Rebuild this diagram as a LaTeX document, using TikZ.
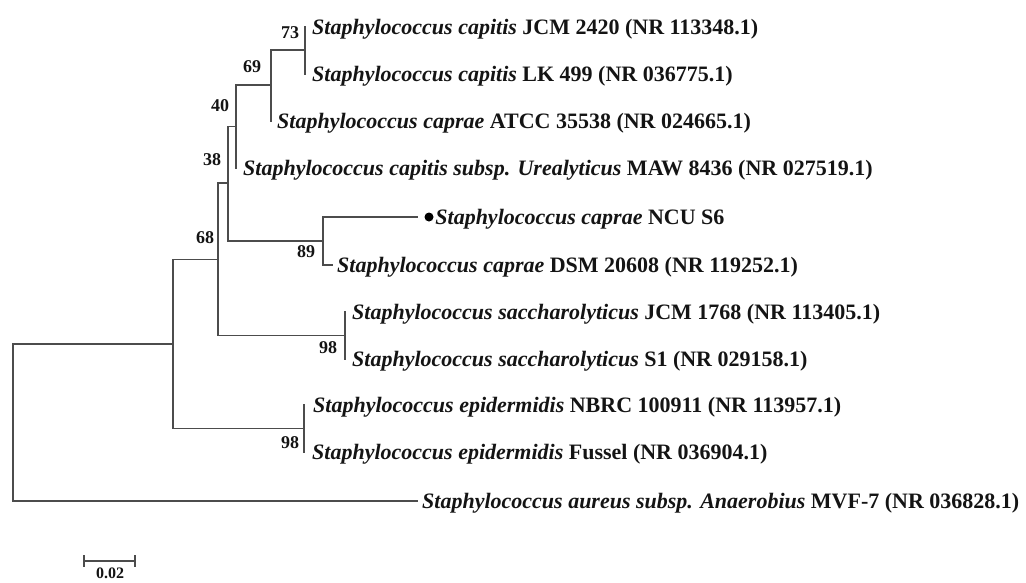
\documentclass[tikz,border=0pt]{standalone}
\usepackage{fontspec}
\setmainfont{Liberation Serif}
\newcommand{\spn}[1]{{\itshape #1}}
\begin{document}
\begin{tikzpicture}[x=1pt,y=-1pt,
  branch/.style={draw=black!70,line width=1.7pt,line cap=rect},
  leaf/.style={anchor=base west,inner sep=0pt,xshift=7pt,yshift=-7.5pt,
    font=\fontsize{22}{26}\selectfont\bfseries,text=black!92},
  boot/.style={inner sep=0pt,font=\fontsize{18}{20}\selectfont\bfseries,text=black!92}]
\useasboundingbox (0,0) rectangle (1026,582);
% internal nodes
\coordinate (root) at (13,422.5);
\coordinate (nA) at (173,344);
\coordinate (n68) at (218,259.5);
\coordinate (n38) at (228,183);
\coordinate (n40) at (236,126.5);
\coordinate (n69) at (271,85);
\coordinate (n73) at (305,50);
\coordinate (n89) at (323,241);
\coordinate (s98) at (345,335.5);
\coordinate (e98) at (304,428.5);
% tips
\coordinate (t1) at (305,27);
\coordinate (t2) at (305,74);
\coordinate (t3) at (271,121);
\coordinate (t4) at (236,168);
\coordinate (t5) at (417,217);
\coordinate (t6) at (332,265);
\coordinate (t7) at (345,312);
\coordinate (t8) at (345,359);
\coordinate (t9) at (304,405);
\coordinate (t10) at (304,452);
\coordinate (t11) at (417,501);
% branches
\draw[branch] (root) |- (nA);
\draw[branch] (root) |- (t11);
\draw[branch] (nA) |- (n68);
\draw[branch] (nA) |- (e98);
\draw[branch] (n68) |- (n38);
\draw[branch] (n68) |- (s98);
\draw[branch] (n38) |- (n40);
\draw[branch] (n38) |- (n89);
\draw[branch] (n40) |- (n69);
\draw[branch] (n40) |- (t4);
\draw[branch] (n69) |- (n73);
\draw[branch] (n69) |- (t3);
\draw[branch] (n73) |- (t1);
\draw[branch] (n73) |- (t2);
\draw[branch] (n89) |- (t5);
\draw[branch] (n89) |- (t6);
\draw[branch] (s98) |- (t7);
\draw[branch] (s98) |- (t8);
\draw[branch] (e98) |- (t9);
\draw[branch] (e98) |- (t10);
% labels
\node[leaf] (l1) at (t1) {\spn{Staphylococcus capitis} JCM 2420 (NR 113348.1)};
\node[leaf] (l2) at (t2) {\spn{Staphylococcus capitis} LK 499 (NR 036775.1)};
\node[leaf,xshift=-1pt] (l3) at (t3) {\spn{Staphylococcus caprae} ATCC 35538 (NR 024665.1)};
\node[leaf] (l4) at (t4) {\spn{Staphylococcus capitis subsp. Urealyticus} MAW 8436 (NR 027519.1)};
\node[circle,fill=black,inner sep=0pt,minimum size=9pt] (dot) at ([xshift=12pt]t5) {};
\node[leaf,xshift=-5.5pt] (l5) at (dot.east) {\spn{Staphylococcus caprae} NCU S6};
\node[leaf,xshift=-2pt] (l6) at (t6) {\spn{Staphylococcus caprae} DSM 20608 (NR 119252.1)};
\node[leaf] (l7) at (t7) {\spn{Staphylococcus saccharolyticus} JCM 1768 (NR 113405.1)};
\node[leaf] (l8) at (t8) {\spn{Staphylococcus saccharolyticus} S1 (NR 029158.1)};
\node[leaf,xshift=2pt] (l9) at (t9) {\spn{Staphylococcus epidermidis} NBRC 100911 (NR 113957.1)};
\node[leaf,xshift=1pt] (l10) at (t10) {\spn{Staphylococcus epidermidis} Fussel (NR 036904.1)};
\node[leaf,xshift=-2pt] (l11) at (t11) {\spn{Staphylococcus aureus subsp. Anaerobius} MVF-7 (NR 036828.1)};
% bootstrap values
\node[boot] (b73) at (290,33) {73};
\node[boot] (b69) at (252,67) {69};
\node[boot] (b40) at (220,106) {40};
\node[boot] (b38) at (212,160) {38};
\node[boot] (b68) at (205,238) {68};
\node[boot] (b89) at (306,252) {89};
\node[boot] (b98a) at (328,348) {98};
\node[boot] (b98b) at (290,443) {98};
% scale bar
\coordinate (sbL) at (84,561);
\coordinate (sbR) at (135,561);
\draw[branch] (sbL) -- (sbR);
\draw[branch] ([yshift=5pt]sbL) -- ([yshift=-5pt]sbL);
\draw[branch] ([yshift=5pt]sbR) -- ([yshift=-5pt]sbR);
\node[boot,anchor=north,font=\fontsize{16}{18}\selectfont\bfseries] (sblab) at (110,568) {0.02};
\end{tikzpicture}
\end{document}
